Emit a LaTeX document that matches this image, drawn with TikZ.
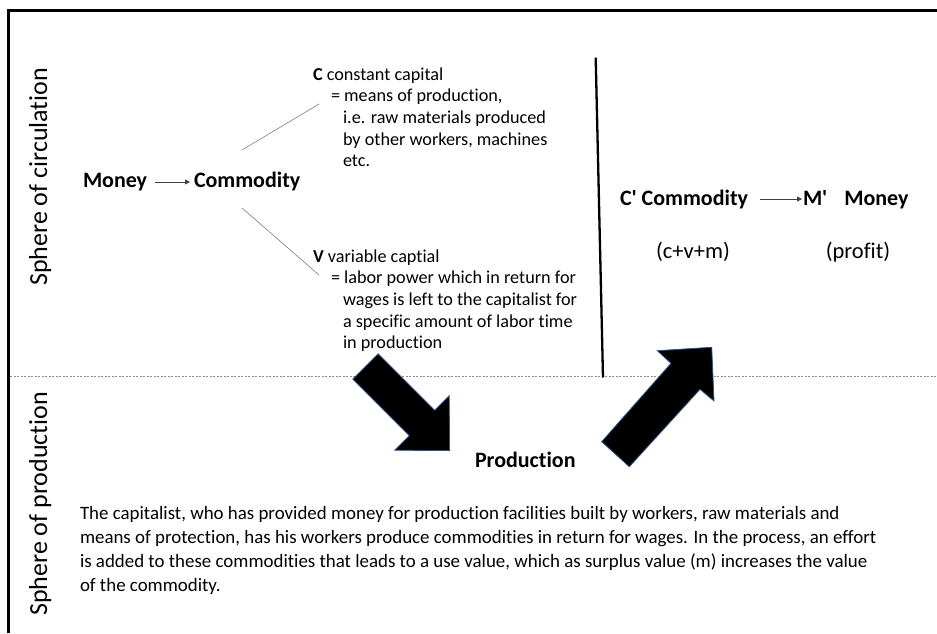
\documentclass[tikz,border=0pt]{standalone}
\usepackage{fontspec}
\setmainfont{Carlito}[Ligatures={NoCommon}]
\usetikzlibrary{arrows.meta}
\definecolor{edgeblue}{HTML}{2F528F}
\definecolor{thingray}{HTML}{7F7F7F}
\newcommand{\fnote}{\fontsize{18.2}{21.7}\selectfont}
\newcommand{\fbody}{\fontsize{18.9}{24}\selectfont}
\newcommand{\fkey}{\fontsize{22}{26}\selectfont\bfseries}
\newcommand{\fsum}{\fontsize{22.5}{26}\selectfont}
\newcommand{\fside}{\fontsize{26}{30}\selectfont}
\begin{document}
\begin{tikzpicture}[x=1pt,y=-1pt,
  txt/.style={inner sep=0pt, outer sep=0pt, anchor=base west, align=left},
  key/.style={txt, font=\fkey},
  side/.style={inner sep=0pt, outer sep=0pt, rotate=90, anchor=base, font=\fside},
  flow/.style={draw=black!75, line width=0.8pt, -{Triangle[length=5pt,width=5pt]}},
  branch/.style={draw=thingray, line width=0.6pt},
  block/.style={fill=black, draw=edgeblue, line width=0.8pt, line join=miter}]
  \useasboundingbox (0,0) rectangle (937,633);
  \fill[white] (0,0) rectangle (937,633);

  % frame and section divider
  \draw[line width=3pt] (8.3,633) -- (8.3,10.3) -- (937,10.3);
  \draw[black!45, line width=0.7pt, dash pattern=on 2pt off 1.5pt] (10,376) -- (937,376);
  \draw[line width=2.3pt] (595.7,57.7) -- (603,377.5);

  % sphere labels
  \node[side] (circ) at (47,177) {Sphere of circulation};
  \node[side] (prod) at (47,504) {Sphere of production};

  % money to commodity
  \node[key] (money) at (83,187) {Money};
  \node[key] (comm) at (194,187) {Commodity};
  \draw[flow] ([xshift=8pt,yshift=5pt]money.base east) coordinate (m1) -- ([xshift=-4pt]m1 -| comm.west);

  % capital components (anchored on the baseline of their last line)
  \node[txt, font=\fnote] (cconst) at (313,166.8)
    {\textbf{C} constant capital\\
     \hspace*{18pt}= means of production,\\
     \hspace*{30pt}i.e. raw materials produced\\
     \hspace*{30pt}by other workers, machines\\
     \hspace*{30pt}etc.};
  \node[txt, font=\fnote] (cvar) at (313,348.8)
    {\textbf{V} variable captial\\
     \hspace*{18pt}= labor power which in return for\\
     \hspace*{30pt}wages is left to the capitalist for\\
     \hspace*{30pt}a specific amount of labor time\\
     \hspace*{30pt}in production};
  \coordinate (cu0) at (242,150);
  \coordinate (cu1) at (319,104);
  \coordinate (cv0) at (242,208);
  \coordinate (cv1) at (319,275);
  \draw[branch] (cu0) -- (cu1);
  \draw[branch] (cv0) -- (cv1);

  % commodity to money after production
  \node[key] (ccomm) at (620,205) {C\textquotesingle{} Commodity};
  \node[key] (mmoney) at (803,205) {M\textquotesingle\hspace{17pt}Money};
  \draw[flow] ([xshift=12pt,yshift=6pt]ccomm.base east) coordinate (c1) -- ([xshift=-1pt]c1 -| mmoney.west);
  \node[inner sep=0pt, anchor=base, font=\fsum] (cvm) at (693,258) {(c+v+m)};
  \node[inner sep=0pt, anchor=base, font=\fsum] (profit) at (858,258) {(profit)};

  % production
  \node[key] (production) at (475,467) {Production};

  % block arrows into and out of production
  \filldraw[block] (378.2,353.8) -- (434.7,410.3) -- (449.2,395.8) -- (449.6,450.6)
    -- (394.8,450.2) -- (409.3,435.7) -- (352.8,379.2) -- cycle;
  \filldraw[block] (601.7,441.7) -- (671,363.3) -- (657.3,350.7) -- (711.7,347.3)
    -- (714,401) -- (700,389.3) -- (629.3,466.7) -- cycle;

  % explanation (anchored on the baseline of its last line)
  \node[txt, font=\fbody] (expl) at (80,591)
    {The capitalist, who has provided money for production facilities built by workers, raw materials and\\
     means of protection, has his workers produce commodities in return for wages. In the process, an effort\\
     is added to these commodities that leads to a use value, which as surplus value (m) increases the value\\
     of the commodity.};
\end{tikzpicture}
\end{document}
